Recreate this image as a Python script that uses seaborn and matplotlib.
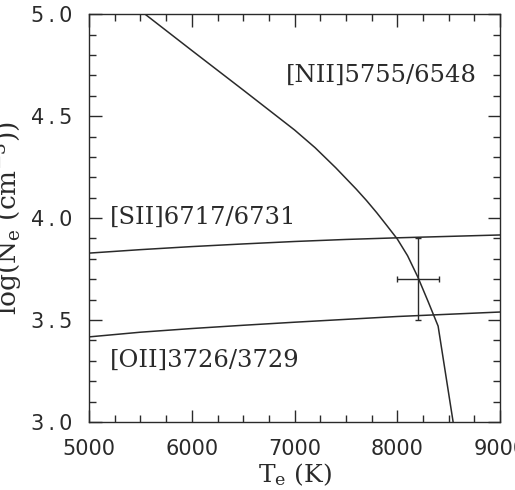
import numpy as np
import pandas as pd
import matplotlib
matplotlib.use("Agg")
import matplotlib.pyplot as plt
import seaborn as sns
from matplotlib.ticker import MultipleLocator

# curves: Te (K) vs log(Ne)
nii_te = [5545, 6000, 6500, 7000, 7200, 7400, 7600, 7700, 7800, 7900, 8000,
          8100, 8200, 8300, 8397, 8470, 8543]
nii_logne = [5.0, 4.822, 4.628, 4.432, 4.345, 4.247, 4.142, 4.086, 4.026, 3.962,
             3.897, 3.815, 3.71, 3.59, 3.47, 3.235, 3.0]

sii_te = [5000, 5500, 6000, 6500, 7000, 7500, 8000, 8500, 9000]
sii_logne = [3.828, 3.845, 3.86, 3.873, 3.885, 3.895, 3.903, 3.91, 3.917]

oii_te = [5000, 5500, 6000, 6500, 7000, 7500, 8000, 8500, 9000]
oii_logne = [3.417, 3.44, 3.458, 3.474, 3.489, 3.503, 3.517, 3.528, 3.539]

# measured point with errors
point_te = [8200]
point_logne = [3.70]
point_te_err = [208]
point_logne_err = [0.20]

labels = ["[NII]5755/6548", "[SII]6717/6731", "[OII]3726/3729"]
xticks = [5000, 6000, 7000, 8000, 9000]
yticks = [3.0, 3.5, 4.0, 4.5, 5.0]
yticklabels = ["3\u2009.\u20090", "3\u2009.\u20095", "4\u2009.\u20090",
               "4\u2009.\u20095", "5\u2009.\u20090"]

ink = "#2a2a2a"

sns.set_theme(style="ticks")
plt.rcParams['font.family'] = ['DejaVu Serif']
plt.rcParams['mathtext.fontset'] = 'dejavuserif'

fig = plt.figure(figsize=(5.15, 4.9), dpi=100)
ax = fig.add_axes([0.173, 0.139, 0.798, 0.832])

for te, ne in [(nii_te, nii_logne), (sii_te, sii_logne), (oii_te, oii_logne)]:
    df = pd.DataFrame({"Te": te, "logNe": ne})
    sns.lineplot(data=df, x="Te", y="logNe", color=ink, linewidth=1.1,
                 sort=False, ax=ax)

ax.errorbar(point_te, point_logne, xerr=point_te_err, yerr=point_logne_err,
            fmt="none", ecolor=ink, elinewidth=1.0, capsize=2.5)

ax.text(8776, 4.70, labels[0], ha="right", va="center", fontsize=17.5, color=ink)
ax.text(5204, 4.005, labels[1], ha="left", va="center", fontsize=17.5, color=ink)
ax.text(5204, 3.30, labels[2], ha="left", va="center", fontsize=17.5, color=ink)

ax.set_xlim(5000, 9000)
ax.set_ylim(3.0, 5.0)
ax.set_xticks(xticks)
ax.set_yticks(yticks)
ax.set_yticklabels(yticklabels)
ax.xaxis.set_minor_locator(MultipleLocator(250))
ax.yaxis.set_minor_locator(MultipleLocator(0.1))
ax.tick_params(which="both", direction="in", top=True, right=True,
               color=ink, width=1.0)
ax.tick_params(which="major", length=9, labelsize=15, labelcolor=ink)
ax.tick_params(axis="x", which="major", pad=12)
ax.tick_params(axis="y", which="major", pad=12)
ax.tick_params(which="minor", length=5)
for lab in ax.get_xticklabels() + ax.get_yticklabels():
    lab.set_family("DejaVu Sans")
for sp in ax.spines.values():
    sp.set_color(ink)
    sp.set_linewidth(1.0)

ax.set_xlabel(r"T$_{\rm e}$ (K)", fontsize=18, color=ink, labelpad=2)
ax.set_ylabel(r"log(N$_{\rm e}$ (cm$^{-3}$))", fontsize=19, color=ink, labelpad=4)

fig.savefig("out.png", dpi=100)
